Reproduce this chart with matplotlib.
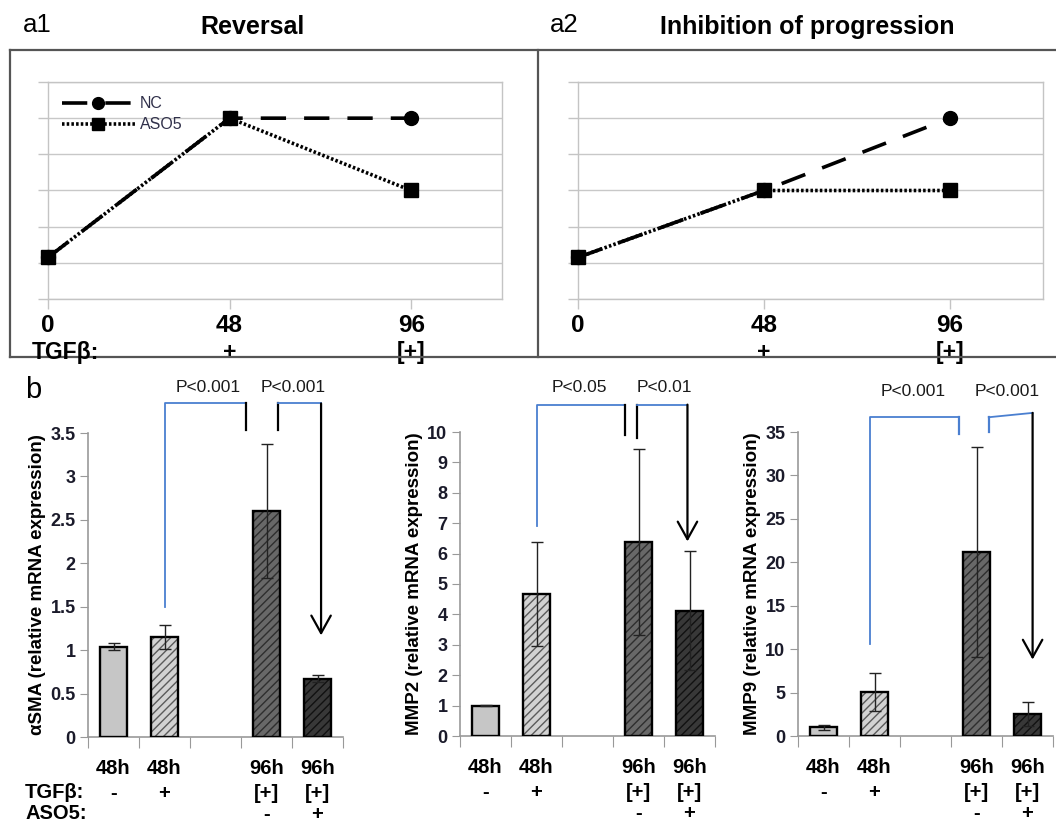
import matplotlib
matplotlib.use('Agg')
import matplotlib.pyplot as plt
from matplotlib.lines import Line2D
import numpy as np

plt.rcParams['font.family'] = ['Liberation Sans', 'DejaVu Sans']
plt.rcParams['hatch.linewidth'] = 1.0

W, H = 1056, 822

# ---- panel a: schematic time course
hours = [0, 48, 96]
hour_labels = ['0', '48', '96']
tgf_top = ['', '+', '[+]']
a1_nc = [1.15, 5, 5]
a1_aso = [1.15, 5, 3]
a2_nc = [1.15, 3, 5]
a2_aso = [1.15, 3, 3]

# ---- panel b: qPCR bars (slot 2 is the empty gap)
slots = [0, 1, 3, 4]
row_time = ['48h', '48h', '96h', '96h']
row_tgf = ['-', '+', '[+]', '[+]']
row_aso = ['', '', '-', '+']
sma_val = [1.04, 1.15, 2.60, 0.67]
sma_err = [0.04, 0.14, 0.77, 0.04]
mmp2_val = [1.00, 4.67, 6.38, 4.12]
mmp2_err = [0.02, 1.70, 3.05, 1.95]
mmp9_val = [1.00, 5.1, 21.2, 2.5]
mmp9_err = [0.27, 2.2, 12.1, 1.4]

bar_face = ['#c6c6c6', '#d2d2d2', '#686868', '#383838']
bar_hatch = [None, '#5a5a5a', '#2e2e2e', '#111111']

BLUE = '#4a7fd0'


def px_axes(x0, x1, ytop, ybot):
    return [x0 / W, (H - ybot) / H, (x1 - x0) / W, (ybot - ytop) / H]


fig = plt.figure(figsize=(W / 100, H / 100), dpi=100)


def line_panel(rect, nc, aso, show_legend):
    ax = fig.add_axes(rect)
    ax.set_xlim(0, 120)
    ax.set_ylim(0, 6)
    ax.set_yticks(range(7))
    ax.set_yticklabels([])
    ax.set_xticks(hours)
    ax.set_xticklabels([])
    ax.grid(axis='y', color='#c8c8c8', lw=1)
    ax.set_axisbelow(True)
    for s in ax.spines.values():
        s.set_color('#c4c4c4')
        s.set_linewidth(1)
    ax.tick_params(axis='both', length=7, color='#c4c4c4', width=1)
    ax.plot(hours, nc, color='black', lw=2.6, dashes=(7, 5), marker='o',
            ms=10, label='NC', clip_on=False, zorder=3)
    ax.plot(hours, aso, color='black', lw=2.6, linestyle=(0, (0.7, 0.6)),
            marker='s', ms=10, label='ASO5', clip_on=False, zorder=4)
    tr = ax.get_xaxis_transform()
    for h, lab, t in zip(hours, hour_labels, tgf_top):
        ax.text(h, -0.12, lab, transform=tr, ha='center', va='center',
                fontsize=17.5, fontweight='bold')
        if t:
            ax.text(h, -0.245, t, transform=tr, ha='center', va='center',
                    fontsize=16.5, fontweight='bold')
    if show_legend:
        leg = ax.legend(loc='upper left', bbox_to_anchor=(0.03, 0.935),
                        frameon=False, fontsize=11.5, handlelength=4.6,
                        handletextpad=0.3, labelspacing=0.4, markerscale=0.85,
                        borderpad=0, borderaxespad=0)
        for t in leg.get_texts():
            t.set_color('#30304a')
    return ax


line_panel(px_axes(48, 502, 82, 299), a1_nc, a1_aso, True)
line_panel(px_axes(578, 1043, 82, 299), a2_nc, a2_aso, False)

fig.text(23 / W, 1 - 25 / H, 'a1', fontsize=18.5, ha='left', va='center')
fig.text(252 / W, 1 - 27 / H, 'Reversal', fontsize=18, fontweight='bold',
         ha='center', va='center')
fig.text(550 / W, 1 - 25 / H, 'a2', fontsize=18.5, ha='left', va='center')
fig.text(807 / W, 1 - 27 / H, 'Inhibition of progression', fontsize=18,
         fontweight='bold', ha='center', va='center')
fig.text(32 / W, 1 - 352 / H, 'TGF\u03b2:', fontsize=16.5, fontweight='bold',
         ha='left', va='center')

# outer frames of panel a
frame = dict(color='#555555', lw=1.6, transform=fig.transFigure)
fig.add_artist(Line2D([10 / W, 1], [1 - 50 / H] * 2, **frame))
fig.add_artist(Line2D([10 / W, 1], [1 - 357 / H] * 2, **frame))
fig.add_artist(Line2D([10 / W] * 2, [1 - 50 / H, 1 - 357 / H], **frame))
fig.add_artist(Line2D([538 / W] * 2, [1 - 50 / H, 1 - 357 / H], **frame))


def bar_panel(rect, vals, errs, ymax, ystep, ylabel, fmt, brackets):
    ax = fig.add_axes(rect)
    ax.set_xlim(-0.5, 4.5)
    ax.set_ylim(0, ymax)
    for i, (x, v) in enumerate(zip(slots, vals)):
        if bar_hatch[i]:
            ax.bar(x, v, 0.52, color=bar_face[i], edgecolor=bar_hatch[i],
                   hatch='////', lw=0, zorder=2)
        else:
            ax.bar(x, v, 0.52, color=bar_face[i], lw=0, zorder=2)
        ax.bar(x, v, 0.52, fill=False, edgecolor='black', lw=1.7, zorder=3)
    ax.errorbar(slots, vals, yerr=errs, fmt='none', ecolor='#222222',
                elinewidth=1, capsize=4, capthick=1, zorder=4)
    yt = np.arange(0, ymax + ystep / 2, ystep)
    ax.set_yticks(yt)
    ax.set_yticklabels([fmt(v) for v in yt], fontsize=13, fontweight='bold',
                       color='#1a1a2a')
    ax.set_xticks([-0.5, 0.5, 1.5, 2.5, 3.5, 4.5])
    ax.set_xticklabels([])
    for s in ['top', 'right']:
        ax.spines[s].set_visible(False)
    for s in ['left', 'bottom']:
        ax.spines[s].set_color('#999999')
        ax.spines[s].set_linewidth(1.2)
    ax.tick_params(axis='y', length=6, color='#999999', pad=3)
    ax.tick_params(axis='x', length=8, color='#999999')
    ax.set_ylabel(ylabel, fontsize=13.5, fontweight='bold', labelpad=3)
    tr = ax.get_xaxis_transform()
    for x, a, b, c in zip(slots, row_time, row_tgf, row_aso):
        ax.text(x, -0.105, a, transform=tr, ha='center', va='center',
                fontsize=14.5, fontweight='bold')
        ax.text(x, -0.185, b, transform=tr, ha='center', va='center',
                fontsize=14.5, fontweight='bold')
        if c:
            ax.text(x, -0.255, c, transform=tr, ha='center', va='center',
                    fontsize=14.5, fontweight='bold')
    # significance brackets
    (x0, y0), (x1, y1), ytop, (x2, y2), (x3, y3), tip, vcol, labels = brackets
    ax.plot([x0, x0, x1], [y0, ytop, ytop], color=BLUE, lw=1.3, clip_on=False)
    ax.plot([x1, x1], [ytop, y1], color=vcol, lw=1.6, clip_on=False)
    ax.plot([x2, x2], [y2, ytop], color=vcol, lw=1.6, clip_on=False)
    ax.plot([x2, x3], [ytop, y3], color=BLUE, lw=1.3, clip_on=False)
    ax.annotate('', xy=(x3, tip), xytext=(x3, y3), annotation_clip=False,
                arrowprops=dict(arrowstyle='->,head_length=0.9,head_width=0.5',
                                color='black', lw=1.6, mutation_scale=14,
                                shrinkA=0, shrinkB=0))
    for (lx, ly), t in labels:
        ax.text(lx, ly, t, ha='center', va='center', fontsize=12.5,
                color='#1a1a1a')
    return ax


def f_half(v):
    return '0' if v == 0 else ('%g' % v)


bar_panel(px_axes(88, 343, 433, 737), sma_val, sma_err, 3.5, 0.5,
          '\u03b1SMA (relative mRNA expression)', f_half,
          [(1.0, 1.5), (2.6, 3.54), 3.84, (3.22, 3.54), (4.07, 3.84), 1.17,
           'black', [((1.85, 4.02), 'P<0.001'), ((3.52, 4.02), 'P<0.001')]])
bar_panel(px_axes(460, 715, 432, 736), mmp2_val, mmp2_err, 10, 1,
          'MMP2 (relative mRNA expression)', lambda v: '%d' % v,
          [(1.0, 6.9), (2.73, 9.9), 10.9, (2.98, 9.8), (3.96, 10.9), 6.4,
           'black', [((1.85, 11.45), 'P<0.05'), ((3.5, 11.45), 'P<0.01')]])
bar_panel(px_axes(798, 1053, 432, 736), mmp9_val, mmp9_err, 35, 5,
          'MMP9 (relative mRNA expression)', lambda v: '%d' % v,
          [(0.92, 10.6), (2.65, 34.8), 36.7, (3.24, 35.0), (4.1, 37.2), 8.8,
           BLUE, [((1.75, 39.7), 'P<0.001'), ((3.6, 39.7), 'P<0.001')]])

fig.text(25 / W, 1 - 390 / H, 'b', fontsize=21, ha='left', va='center')
fig.text(25 / W, 1 - 792 / H, 'TGF\u03b2:', fontsize=14.5, fontweight='bold',
         ha='left', va='center')
fig.text(25 / W, 1 - 813 / H, 'ASO5:', fontsize=14.5, fontweight='bold',
         ha='left', va='center')

fig.savefig('out.png', dpi=100)
